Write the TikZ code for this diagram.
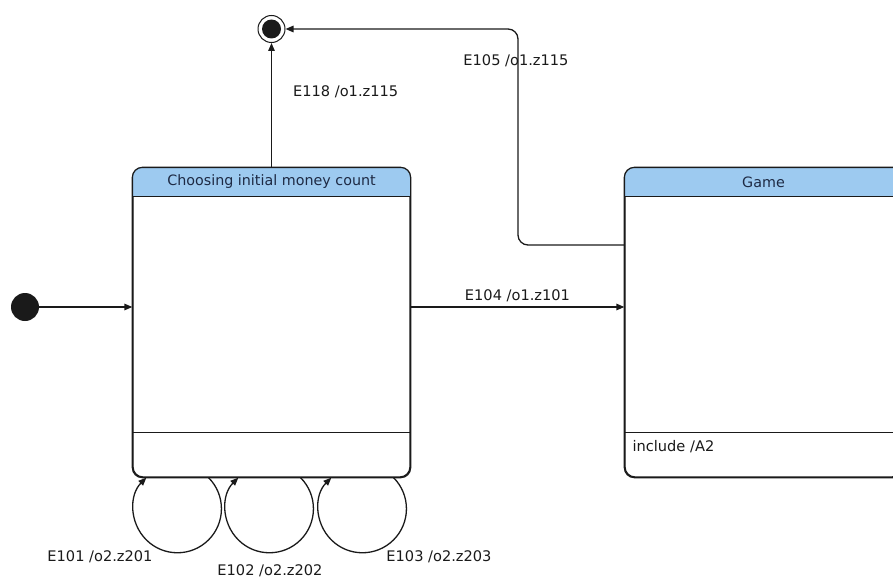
\documentclass[tikz,border=0pt]{standalone}
\usepackage{fontspec}
\setmainfont{DejaVu Sans}
\usetikzlibrary{arrows.meta, positioning, calc}
\definecolor{headblue}{HTML}{9DCAF0}
\definecolor{headtext}{HTML}{1E2A44}
\definecolor{ink}{HTML}{1A1A1A}
\tikzset{
  statebox/.style={
    rectangle, rounded corners=10pt,
    draw=ink, fill=white, line width=1.3pt,
    minimum width=277pt, minimum height=309pt, inner sep=0pt
  },
  headlabel/.style={font=\fontsize{14.3}{16}\selectfont, text=headtext},
  label/.style={font=\fontsize{14.6}{17}\selectfont, text=ink, inner sep=1pt},
  startdot/.style={circle, fill=ink, minimum size=28pt, inner sep=0pt},
  enddot/.style={circle, draw=ink, fill=white, line width=1pt,
    minimum size=27pt, inner sep=0pt,
    path picture={\fill[ink] (path picture bounding box.center) circle (9.5pt);}},
  arrow/.style={-{Triangle[length=8pt,width=6.5pt]}, line width=1.3pt, draw=ink},
  rule/.style={line width=1.3pt, draw=ink},
}

\begin{document}
\begin{tikzpicture}[x=1pt, y=1pt]
  \useasboundingbox (0,0) rectangle (893,-578);
  \clip (0,0) rectangle (893,-578);

  % states
  \node[statebox] (choose) at (271.5,-322.5) {};
  \node[statebox] (game) at (763.5,-322.5) {};
  \foreach \s in {choose, game} {
    \begin{scope}
      \clip[rounded corners=10pt] (\s.south west) rectangle (\s.north east);
      \fill[headblue] (\s.north west) rectangle ([yshift=-29pt]\s.north east);
    \end{scope}
    \draw[rule, rounded corners=10pt] (\s.south west) rectangle (\s.north east);
    \draw[rule] ([yshift=-29pt]\s.north west) -- ([yshift=-29pt]\s.north east);
    \draw[rule] ([yshift=45pt]\s.south west) -- ([yshift=45pt]\s.south east);
  }
  \node[headlabel] (choosetitle) at ([yshift=-14.5pt]choose.north) {Choosing initial money count};
  \node[headlabel] (gametitle) at ([yshift=-14.5pt]game.north) {Game};
  \node[label, anchor=west] (gameinclude) at ([xshift=7pt, yshift=31pt]game.south west) {include /A2};

  % pseudo states
  \node[startdot] (init) at (25,-307) {};
  \node[enddot] (final) at (271.5,-29) {};

  % transitions
  \coordinate (row) at (0,-307);
  \draw[arrow] (init) -- (init -| choose.west);
  \draw[arrow] (choose.east |- row) -- (game.west |- row)
    node[label, midway, above=4pt] (e104) {E104 /o1.z101};
  \draw[arrow] (choose.north) -- (final)
    node[label, pos=0.61, right=20pt] (e118) {E118 /o1.z115};

  \coordinate (gameexit) at (game.west |- 0,-245);
  \coordinate (bend) at (518,-29);
  \draw[arrow, rounded corners=10pt] (gameexit) -| (bend) -- (final);
  \node[label] (e105) at (516,-61) {E105 /o1.z115};

  % self loops on the first state
  \foreach \off in {76.2, 168.2, 261.2}
    \draw[arrow] ([xshift=\off pt]choose.south west)
      arc[start angle=45, end angle=-225, radius=44pt];
  \node[label] (e101) at (100,-557) {E101 /o2.z201};
  \node[label] (e102) at (270,-571) {E102 /o2.z202};
  \node[label] (e103) at (439,-557) {E103 /o2.z203};
\end{tikzpicture}
\end{document}
